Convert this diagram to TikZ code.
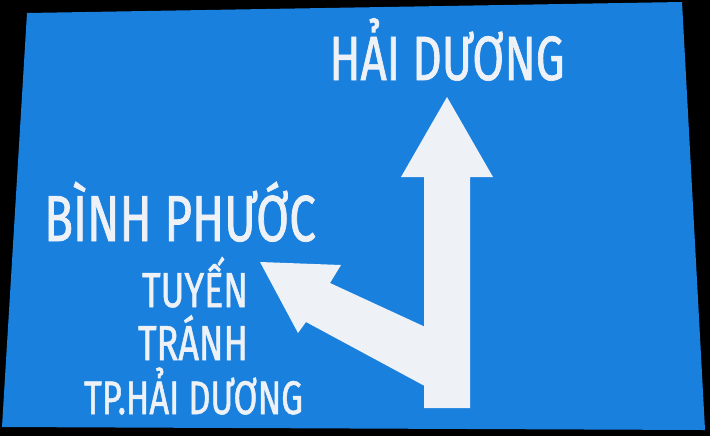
\documentclass[tikz,border=0pt]{standalone}
\usepackage{fontspec}
\newfontfamily\signfont[FakeStretch=0.73, FakeBold=1.1]{Fira Sans}
\usepackage{tikz}

\definecolor{signblue}{RGB}{26,128,222}
\definecolor{signwhite}{RGB}{238,242,247}
\tikzset{
	signtext/.style={anchor=base, inner sep=0pt, text=signwhite},
	arrowbody/.style={fill=signwhite, draw=none}
}

\begin{document}
\begin{tikzpicture}[x=0.01cm, y=-0.01cm]
	\useasboundingbox (0,0) rectangle (710,436);
	\fill[black] (0,0) rectangle (710,436);
	\fill[signblue] (27,13) -- (682,2) -- (705,430) -- (2,427) -- cycle;

	% left arrow, then the straight one on top of it
	\fill[arrowbody] (447,337) -- (330,283) -- (341,265) -- (260,262) -- (298,333) -- (306,322) -- (447,398) -- cycle;
	\fill[arrowbody] (424,408) -- (424,177) -- (401,177) -- (447,97) -- (493,177) -- (470,177) -- (470,408) -- cycle;

	\node[signtext, font=\signfont\fontsize{17.8}{20}\selectfont] (haiduong) at (447,80) {HẢI DƯƠNG};
	\node[signtext, font=\signfont\fontsize{18.5}{21}\selectfont] (binhphuoc) at (180,241) {BÌNH PHƯỚC};
	\node[signtext, font=\signfont\fontsize{14}{17}\selectfont] (tuyen) at (195,307) {TUYẾN};
	\node[signtext, font=\signfont\fontsize{14}{17}\selectfont] (tranh) at (193,360) {TRÁNH};
	\node[signtext, font=\signfont\fontsize{13.4}{17}\selectfont] (tphd) at (193.5,414) {TP.HẢI DƯƠNG};
\end{tikzpicture}
\end{document}
